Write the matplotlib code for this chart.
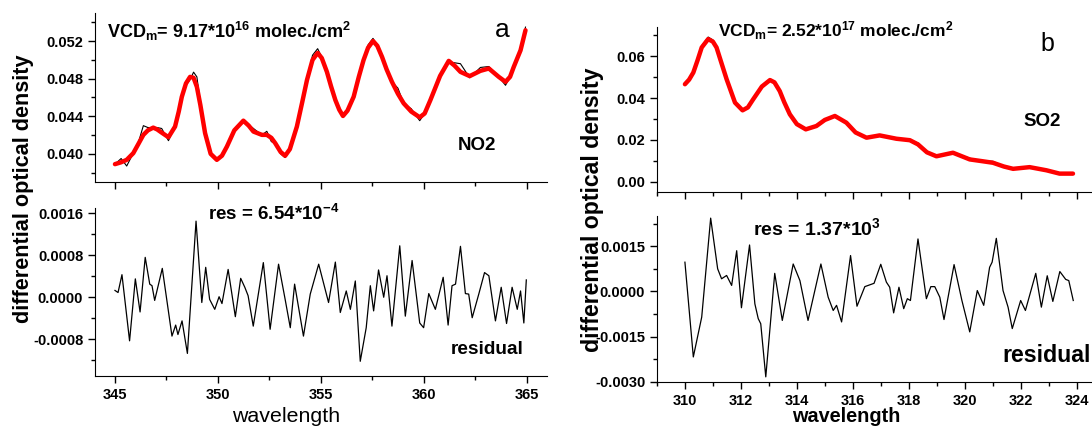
import matplotlib
matplotlib.use('Agg')
import matplotlib.pyplot as plt
from matplotlib.ticker import MultipleLocator, FormatStrFormatter

plt.rcParams['font.family'] = ['Liberation Sans', 'DejaVu Sans']
plt.rcParams['font.weight'] = 'bold'
plt.rcParams['axes.unicode_minus'] = False
plt.rcParams['mathtext.fontset'] = 'custom'
plt.rcParams['mathtext.rm'] = 'Liberation Sans:bold'
plt.rcParams['mathtext.bf'] = 'Liberation Sans:bold'
plt.rcParams['mathtext.default'] = 'bf'
plt.rcParams['lines.solid_joinstyle'] = 'round'

#%% NO2 (panel a)
wl_no2 = [345.0, 345.3, 345.57, 345.89, 346.15, 346.38, 346.6, 346.86, 347.05, 347.27,
          347.6, 347.92, 348.1, 348.25, 348.45, 348.65, 348.82, 348.98, 349.15, 349.38,
          349.65, 349.95, 350.2, 350.44, 350.8, 351.24, 351.5, 351.73, 352.14, 352.38,
          352.6, 352.79, 353.05, 353.27, 353.5, 353.84, 354.1, 354.33, 354.6, 354.85,
          355.05, 355.3, 355.5, 355.71, 355.9, 356.08, 356.3, 356.6, 356.85, 357.08,
          357.3, 357.54, 357.75, 357.98, 358.2, 358.46, 358.75, 359.03, 359.4, 359.81,
          360.05, 360.33, 360.8, 361.22, 361.5, 361.79, 362.24, 362.76, 363.17, 363.65,
          363.98, 364.2, 364.38, 364.71, 364.95]
fit_no2 = [0.0389, 0.0391, 0.03936, 0.04007, 0.0411, 0.04202, 0.0425, 0.04279, 0.0426, 0.04226,
           0.04177, 0.0429, 0.0445, 0.04608, 0.0475, 0.0482, 0.0481, 0.04714, 0.0452, 0.0422,
           0.0400, 0.03936, 0.0398, 0.04077, 0.0425, 0.04353, 0.0430, 0.04237, 0.04202, 0.04202,
           0.0417, 0.04113, 0.0402, 0.03979, 0.0405, 0.0429, 0.0455, 0.04785, 0.0500, 0.05075,
           0.0502, 0.04873, 0.0472, 0.04573, 0.0447, 0.04403, 0.0446, 0.04608, 0.0482, 0.04998,
           0.0513, 0.05202, 0.0515, 0.05032, 0.0490, 0.04767, 0.0464, 0.04538, 0.0445, 0.04389,
           0.0443, 0.04573, 0.0483, 0.0499, 0.0494, 0.04873, 0.04828, 0.04884, 0.04909, 0.0482,
           0.04767, 0.0482, 0.04926, 0.05103, 0.05316]
meas_no2 = [0.0389, 0.0395, 0.0387, 0.04007, 0.0413, 0.0430, 0.0428, 0.0428, 0.0428, 0.0427,
            0.0414, 0.0429, 0.0444, 0.04590, 0.0473, 0.0479, 0.0487, 0.0482, 0.0455, 0.0422,
            0.0400, 0.03936, 0.0398, 0.04077, 0.0425, 0.04353, 0.0431, 0.0427, 0.0420, 0.0424,
            0.0413, 0.04113, 0.0400, 0.0396, 0.0405, 0.0429, 0.0455, 0.04785, 0.0505, 0.0512,
            0.0503, 0.04873, 0.0472, 0.04573, 0.0447, 0.04403, 0.0446, 0.04608, 0.0482, 0.04998,
            0.0516, 0.0523, 0.0515, 0.05032, 0.0490, 0.04767, 0.0470, 0.04538, 0.0448, 0.04353,
            0.0443, 0.04573, 0.0483, 0.0497, 0.0497, 0.0496, 0.0481, 0.0492, 0.0493, 0.0482,
            0.0473, 0.0482, 0.04926, 0.05103, 0.0535]

wl_res_no2 = [345.0, 345.15, 345.34, 345.71, 345.99, 346.22, 346.47, 346.69, 346.8, 346.93,
              347.3, 347.77, 347.95, 348.06, 348.26, 348.52, 348.94, 349.22, 349.41, 349.6,
              349.85, 350.06, 350.2, 350.5, 350.85, 351.11, 351.31, 351.47, 351.72, 352.21,
              352.54, 352.95, 353.27, 353.52, 353.73, 354.16, 354.49, 354.9, 355.38, 355.71,
              355.95, 356.24, 356.44, 356.68, 356.92, 357.21, 357.41, 357.57, 357.81, 358.06,
              358.22, 358.46, 358.84, 359.11, 359.44, 359.81, 360.0, 360.25, 360.57, 360.95,
              361.19, 361.38, 361.55, 361.79, 362.03, 362.19, 362.36, 362.68, 362.96, 363.17,
              363.49, 363.77, 364.03, 364.3, 364.55, 364.71, 364.87, 364.99]
res_no2 = [0.00013, 0.00009, 0.00043, -0.00083, 0.00035, -0.00028, 0.00076, 0.00025, 0.00022, -0.00006,
           0.00055, -0.00074, -0.00053, -0.00071, -0.00045, -0.00107, 0.00145, -0.0001, 0.00057, -0.00004,
           -0.00023, 0.00001, -0.00012, 0.00053, -0.00037, 0.00036, 0.00019, 0.00003, -0.00055, 0.00066,
           -0.00061, 0.00063, -0.00004, -0.00058, 0.00025, -0.00074, 0.00006, 0.00063, -0.0001, 0.00067,
           -0.00029, 0.00012, -0.00023, 0.00031, -0.00122, -0.00058, 0.00022, -0.00026, 0.00052, 0.0,
           0.00041, -0.00055, 0.00098, -0.00036, 0.0007, -0.00049, -0.00058, 0.00007, -0.00023, 0.00038,
           -0.00053, 0.00022, 0.00025, 0.00097, 0.00007, 0.00006, -0.00039, 0.00006, 0.00047, 0.00041,
           -0.00045, 0.00019, -0.0005, 0.00019, -0.00023, 0.00012, -0.00049, 0.00033]

#%% SO2 (panel b)
wl_so2 = [310.0, 310.15, 310.3, 310.45, 310.6, 310.83, 311.0, 311.13, 311.3, 311.49, 311.79,
          312.06, 312.25, 312.44, 312.75, 313.04, 313.2, 313.39, 313.55, 313.75, 314.0,
          314.32, 314.7, 315.0, 315.36, 315.77, 316.1, 316.49, 316.96, 317.56, 318.04,
          318.33, 318.65, 318.99, 319.58, 320.18, 320.6, 321.01, 321.4, 321.73, 322.32,
          322.92, 323.39, 323.87]
fit_so2 = [0.0466, 0.0488, 0.0522, 0.0580, 0.0642, 0.0682, 0.0670, 0.0642, 0.0570, 0.049, 0.0378,
           0.0341, 0.0355, 0.0394, 0.0455, 0.0486, 0.0475, 0.0433, 0.0380, 0.0322, 0.0275,
           0.025, 0.0266, 0.0295, 0.0314, 0.0282, 0.0235, 0.021, 0.0221, 0.0205, 0.0198,
           0.0178, 0.0140, 0.0121, 0.0138, 0.0106, 0.0098, 0.009, 0.0072, 0.0061, 0.0069,
           0.0054, 0.0038, 0.0038]
meas_so2 = [0.0466, 0.0490, 0.0524, 0.0585, 0.0650, 0.0692, 0.0678, 0.0648, 0.0570, 0.049, 0.0378,
            0.0341, 0.0358, 0.0394, 0.0450, 0.0484, 0.0480, 0.0433, 0.0380, 0.0322, 0.0275,
            0.025, 0.0266, 0.0295, 0.0314, 0.0282, 0.0235, 0.021, 0.0221, 0.0205, 0.0198,
            0.0185, 0.0140, 0.0121, 0.0138, 0.0112, 0.0098, 0.0097, 0.0072, 0.0061, 0.0069,
            0.0054, 0.0038, 0.0038]

wl_res_so2 = [310.0, 310.3, 310.6, 310.92, 311.17, 311.31, 311.49, 311.67, 311.85, 312.02,
              312.31, 312.5, 312.62, 312.71, 312.89, 313.21, 313.48, 313.87, 314.11, 314.4,
              314.86, 315.12, 315.3, 315.42, 315.6, 315.92, 316.15, 316.43, 316.76, 317.0,
              317.2, 317.32, 317.46, 317.65, 317.82, 317.95, 318.06, 318.33, 318.63, 318.79,
              318.93, 319.11, 319.26, 319.62, 319.9, 320.18, 320.45, 320.68, 320.89, 320.98,
              321.13, 321.37, 321.55, 321.7, 322.0, 322.17, 322.54, 322.74, 322.95, 323.15,
              323.4, 323.61, 323.72, 323.88]
res_so2 = [0.00097, -0.00217, -0.00085, 0.00243, 0.00075, 0.00042, 0.00053, 0.0002, 0.00135, -0.00054,
           0.00154, -0.00041, -0.0009, -0.00107, -0.00283, 0.0006, -0.00096, 0.00091, 0.00036, -0.00096,
           0.00091, -0.00019, -0.00063, -0.00046, -0.00101, 0.00119, -0.00049, 0.00016, 0.00027, 0.0009,
           0.00031, 0.00014, -0.00071, 0.00014, -0.00057, -0.00024, -0.0003, 0.00174, -0.00024, 0.00016,
           0.00016, -0.00019, -0.00093, 0.00089, -0.0003, -0.00134, 0.00003, -0.00046, 0.0008, 0.00097,
           0.00176, 0.00003, -0.00052, -0.00123, -0.0003, -0.00063, 0.0006, -0.00052, 0.00052, -0.00033,
           0.00066, 0.0004, 0.00036, -0.0003]

#%%
W, H = 1092, 428

def px(x, y):
    return x / W, 1 - y / H

def styleAxis(ax, xmaj, xmin, ymaj, ymin, yfmt, xlabels=True):
    for s in ['top', 'right']:
        ax.spines[s].set_visible(False)
    ax.xaxis.set_major_locator(MultipleLocator(xmaj))
    ax.xaxis.set_minor_locator(MultipleLocator(xmin))
    ax.yaxis.set_major_locator(MultipleLocator(ymaj))
    ax.yaxis.set_minor_locator(MultipleLocator(ymin))
    ax.yaxis.set_major_formatter(FormatStrFormatter(yfmt))
    ax.tick_params(which='major', direction='out', length=5, width=1, labelsize=10.5)
    ax.tick_params(which='minor', direction='out', length=3, width=1)
    if not xlabels:
        ax.tick_params(axis='x', labelbottom=False)

fig = plt.figure(figsize=(W / 100, H / 100), dpi=100)

# panel a
ax1 = fig.add_axes([0.087, 0.5748, 0.414, 0.3948])
ax1.plot(wl_no2, meas_no2, 'k-', linewidth=0.8)
ax1.plot(wl_no2, fit_no2, '-', color='#ff0000', linewidth=3.2, solid_capstyle='round')
ax1.set_xlim(344.03, 366.0)
ax1.set_ylim(0.037, 0.055)
styleAxis(ax1, 5, 2.5, 0.004, 0.002, '%.3f', xlabels=False)

ax2 = fig.add_axes([0.087, 0.1215, 0.414, 0.3925])
ax2.plot(wl_res_no2, res_no2, 'k-', linewidth=0.9)
ax2.set_xlim(344.03, 366.0)
ax2.set_ylim(-0.0015, 0.0017)
styleAxis(ax2, 5, 2.5, 0.0008, 0.0004, '%.4f')

# panel b
ax3 = fig.add_axes([0.6016, 0.5514, 0.3984, 0.3855])
ax3.plot(wl_so2, meas_so2, 'k-', linewidth=0.8)
ax3.plot(wl_so2, fit_so2, '-', color='#ff0000', linewidth=3.2, solid_capstyle='round')
ax3.set_xlim(309.0, 324.55)
ax3.set_ylim(-0.005, 0.074)
styleAxis(ax3, 2, 1, 0.02, 0.01, '%.2f', xlabels=False)

ax4 = fig.add_axes([0.6016, 0.1075, 0.3984, 0.3878])
ax4.plot(wl_res_so2, res_so2, 'k-', linewidth=0.9)
ax4.set_xlim(309.0, 324.55)
ax4.set_ylim(-0.0030, 0.0025)
styleAxis(ax4, 2, 1, 0.0015, 0.00075, '%.4f')

# texts
fig.text(*px(24, 189), 'differential optical density', rotation=90, fontsize=15.6,
         ha='center', va='center')
fig.text(*px(592, 210), 'differential optical density', rotation=90, fontsize=16.6,
         ha='center', va='center')
fig.text(*px(286, 417), 'wavelength', fontsize=15.4, fontweight='normal', ha='center', va='center')
fig.text(*px(846, 417), 'wavelength', fontsize=14.3, ha='center', va='center')

fig.text(*px(107, 31), r'VCD$_{m}$= 9.17*10$^{16}$ molec./cm$^{2}$', fontsize=13,
         ha='left', va='center')
fig.text(*px(502, 30), 'a', fontsize=19, fontweight='normal', ha='center', va='center')
fig.text(*px(477, 145), 'NO2', fontsize=13.5, ha='center', va='center')
fig.text(*px(208, 214), r'res = 6.54*10$^{-4}$', fontsize=13.5, ha='left', va='center')
fig.text(*px(487, 349), 'residual', fontsize=13.7, ha='center', va='center')

fig.text(*px(718, 31), r'VCD$_{m}$= 2.52*10$^{17}$ molec./cm$^{2}$', fontsize=12.5,
         ha='left', va='center')
fig.text(*px(1047, 44), 'b', fontsize=18, fontweight='normal', ha='center', va='center')
fig.text(*px(1042, 121), 'SO2', fontsize=13.5, ha='center', va='center')
fig.text(*px(753, 228), r'res = 1.37*10$^{3}$', fontsize=14, ha='left', va='center')
fig.text(*px(1047, 355), 'residual', fontsize=16.7, ha='center', va='center')

fig.savefig('out.png', dpi=100)
